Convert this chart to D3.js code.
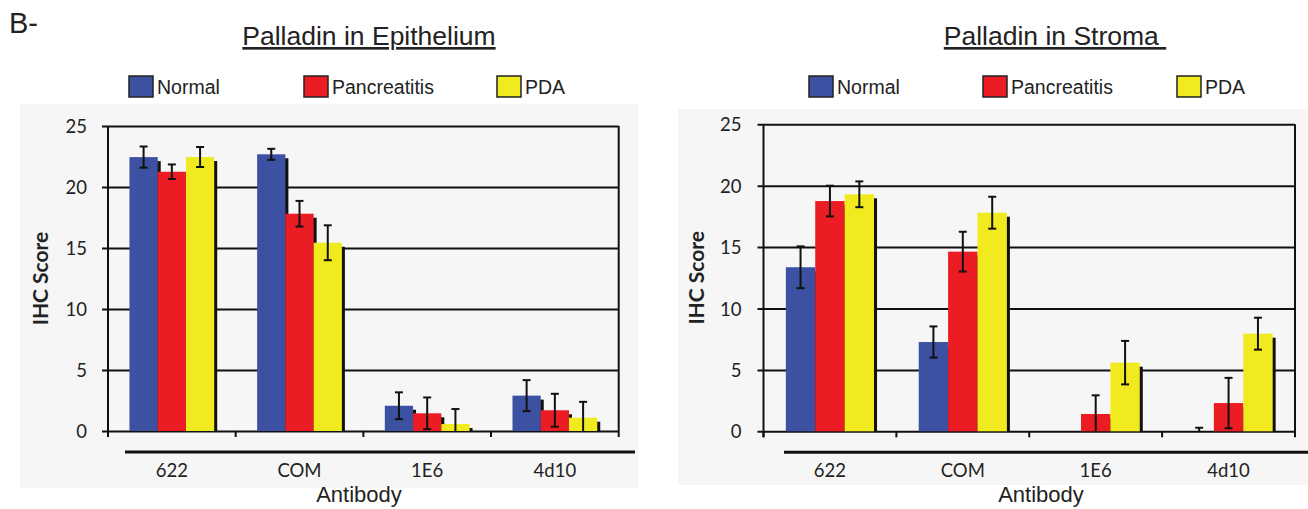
<!DOCTYPE html>
<html>
<head>
<meta charset="utf-8">
<script src="https://cdn.jsdelivr.net/npm/d3@7"></script>
<style>
  body { margin: 0; background: #fff; }
  svg { display: block; }
  .tick text { font-family: Lato, "Open Sans", sans-serif; font-size: 18.5px; fill: #222; }
  .title { font-family: "Liberation Sans", Arial, sans-serif; font-size: 26.5px; fill: #222; text-decoration: underline; }
  .legend { font-family: "Liberation Sans", Arial, sans-serif; font-size: 19.5px; fill: #222; }
  .axis-label { font-family: "Liberation Sans", Arial, sans-serif; font-size: 22px; fill: #222; }
  .y-label { font-family: Lato, sans-serif; font-weight: bold; font-size: 21px; fill: #222; }
</style>
</head>
<body>
<svg id="chart" width="1308" height="509"></svg>
<script>
// Data
const antibodies = ["622", "COM", "1E6", "4d10"];
const groups = ["Normal", "Pancreatitis", "PDA"];
const yTicks = [0, 5, 10, 15, 20, 25];

// Palladin in Epithelium: mean and error per group, by antibody
const epiNormal = [22.45, 22.68, 2.07, 2.9];
const epiNormalErr = [0.87, 0.45, 1.1, 1.27];
const epiPanc = [21.25, 17.81, 1.45, 1.7];
const epiPancErr = [0.6, 1.05, 1.3, 1.35];
const epiPDA = [22.46, 15.43, 0.57, 1.09];
const epiPDAErr = [0.82, 1.43, 1.23, 1.3];

// Palladin in Stroma
const strNormal = [13.36, 7.27, 0, 0];
const strNormalErr = [1.7, 1.27, 0, 0.29];
const strPanc = [18.75, 14.63, 1.41, 2.3];
const strPancErr = [1.25, 1.62, 1.52, 2.05];
const strPDA = [19.3, 17.8, 5.59, 7.95];
const strPDAErr = [1.05, 1.3, 1.77, 1.3];

const colors = ["#3d51a3", "#ec1c24", "#f1ea1f"];
const panelColor = "#f5f6f5";

const svg = d3.select("#chart");

svg.append("text")
    .attr("x", 9)
    .attr("y", 33)
    .style("font-family", "Liberation Sans, Arial, sans-serif")
    .style("font-size", "29px")
    .style("fill", "#222")
    .text("B-");

const buildRows = (vals) => antibodies.map((a, i) => ({
    antibody: a,
    bars: groups.map((g, j) => ({ group: g, value: vals[j][0][i], err: vals[j][1][i], color: colors[j] }))
}));

const drawPanel = (cfg) => {
    const rows = buildRows(cfg.values);

    // grey background panel
    svg.append("rect")
        .attr("x", cfg.panel[0]).attr("y", cfg.panel[1])
        .attr("width", cfg.panel[2]).attr("height", cfg.panel[3])
        .attr("fill", panelColor);

    // title
    svg.append("text")
        .attr("class", "title")
        .attr("x", cfg.titleX)
        .attr("y", 45)
        .attr("text-anchor", "middle")
        .attr("xml:space", "preserve")
        .text(cfg.title);

    // legend
    const legend = svg.append("g");
    groups.forEach((g, j) => {
        const lx = cfg.legendX[j];
        legend.append("rect")
            .attr("x", lx).attr("y", cfg.legendY)
            .attr("width", 24).attr("height", 21)
            .attr("fill", colors[j])
            .attr("stroke", "#222").attr("stroke-width", 1.5);
        legend.append("text")
            .attr("class", "legend")
            .attr("x", lx + 28).attr("y", cfg.legendY + 18)
            .text(g);
    });

    const width = cfg.width, height = cfg.height;
    const innerChart = svg.append("g")
        .attr("transform", `translate(${cfg.left},${cfg.top})`);

    const yScale = d3.scaleLinear().domain([0, 25]).range([height, 0]);
    const xScale = d3.scaleBand().domain(antibodies).range([0, width]).padding(0);
    const groupScale = d3.scaleBand().domain(groups).range([0, xScale.step()])
        .paddingInner(0).paddingOuter(0.76);

    // gridlines + y tick labels
    const leftAxis = d3.axisLeft(yScale)
        .tickValues(yTicks)
        .tickSize(-(width + 6))
        .tickPadding(cfg.tickPad);
    const gy = innerChart.append("g")
        .attr("transform", "translate(-6,0)")
        .call(leftAxis);
    gy.select(".domain").remove();
    gy.selectAll(".tick line").attr("stroke", "#111").attr("stroke-width", 2);
    gy.selectAll(".tick text").attr("dy", "0.36em");

    // y axis line
    innerChart.append("line")
        .attr("x1", 0).attr("x2", 0).attr("y1", 0).attr("y2", height + 6)
        .attr("stroke", "#111").attr("stroke-width", 2);

    // x ticks at band boundaries (last one doubles as right frame)
    innerChart.selectAll(".xtick")
        .data(d3.range(antibodies.length + 1))
        .join("line")
        .attr("class", "xtick")
        .attr("x1", i => i * xScale.step())
        .attr("x2", i => i * xScale.step())
        .attr("y1", i => i === antibodies.length ? 0 : height)
        .attr("y2", height + 6)
        .attr("stroke", "#111").attr("stroke-width", 2);

    // bars: shadows first, then bars
    const groupsG = innerChart.selectAll(".group")
        .data(rows)
        .join("g")
        .attr("class", "group")
        .attr("transform", d => `translate(${xScale(d.antibody)},0)`);

    groupsG.selectAll(".shadow")
        .data(d => d.bars.filter(b => b.value > 0))
        .join("rect")
        .attr("class", "shadow")
        .attr("x", d => groupScale(d.group) + 3)
        .attr("y", d => Math.min(yScale(d.value) + 4, height))
        .attr("width", groupScale.bandwidth())
        .attr("height", d => Math.max(height - yScale(d.value) - 4, 0))
        .attr("fill", "#111");

    groupsG.selectAll(".bar")
        .data(d => d.bars)
        .join("rect")
        .attr("class", "bar")
        .attr("x", d => groupScale(d.group))
        .attr("y", d => yScale(d.value))
        .attr("width", groupScale.bandwidth())
        .attr("height", d => height - yScale(d.value))
        .attr("fill", d => d.color);

    // error bars
    const errG = groupsG.selectAll(".err")
        .data(d => d.bars.filter(b => b.err > 0))
        .join("g")
        .attr("class", "err")
        .attr("transform", d => `translate(${groupScale(d.group) + groupScale.bandwidth() / 2},0)`);
    errG.append("line")
        .attr("y1", d => yScale(d.value + d.err))
        .attr("y2", d => yScale(Math.max(d.value - d.err, 0)))
        .attr("stroke", "#111").attr("stroke-width", 2);
    errG.append("line")
        .attr("x1", -4).attr("x2", 4)
        .attr("y1", d => yScale(d.value + d.err))
        .attr("y2", d => yScale(d.value + d.err))
        .attr("stroke", "#111").attr("stroke-width", 2);
    errG.filter(d => d.value - d.err > 0).append("line")
        .attr("x1", -4).attr("x2", 4)
        .attr("y1", d => yScale(d.value - d.err))
        .attr("y2", d => yScale(d.value - d.err))
        .attr("stroke", "#111").attr("stroke-width", 2);

    // separate line above category labels
    innerChart.append("line")
        .attr("x1", cfg.baseLine[0]).attr("x2", cfg.baseLine[1])
        .attr("y1", height + 21).attr("y2", height + 21)
        .attr("stroke", "#111").attr("stroke-width", 3);

    const bottomAxis = d3.axisBottom(xScale).tickSize(0).tickPadding(0);
    const gx = innerChart.append("g")
        .attr("transform", `translate(0,${height + 29})`)
        .call(bottomAxis);
    gx.select(".domain").remove();
    gx.selectAll(".tick text").attr("dy", "0.9em");

    svg.append("text")
        .attr("class", "axis-label")
        .attr("x", cfg.xLabelX)
        .attr("y", 502)
        .attr("text-anchor", "middle")
        .text("Antibody");

    svg.append("text")
        .attr("class", "y-label")
        .attr("transform", `translate(${cfg.yLabelX},${cfg.top + height / 2}) rotate(-90)`)
        .attr("text-anchor", "middle")
        .text("IHC Score");
};

drawPanel({
    title: "Palladin in Epithelium",
    titleX: 369,
    legendX: [129, 304, 497],
    legendY: 76,
    panel: [20, 104, 618, 384],
    left: 108, top: 126, width: 510.7, height: 305,
    tickPad: 15,
    baseLine: [17, 527],
    xLabelX: 359,
    yLabelX: 48,
    values: [[epiNormal, epiNormalErr], [epiPanc, epiPancErr], [epiPDA, epiPDAErr]]
});

drawPanel({
    title: "Palladin in Stroma ",
    titleX: 1055,
    legendX: [809, 983, 1177],
    legendY: 76,
    panel: [678, 109, 630, 376],
    left: 763.5, top: 124.3, width: 531.5, height: 307,
    tickPad: 16,
    baseLine: [20.5, 545],
    xLabelX: 1041,
    yLabelX: 704,
    values: [[strNormal, strNormalErr], [strPanc, strPancErr], [strPDA, strPDAErr]]
});
</script>
</body>
</html>
